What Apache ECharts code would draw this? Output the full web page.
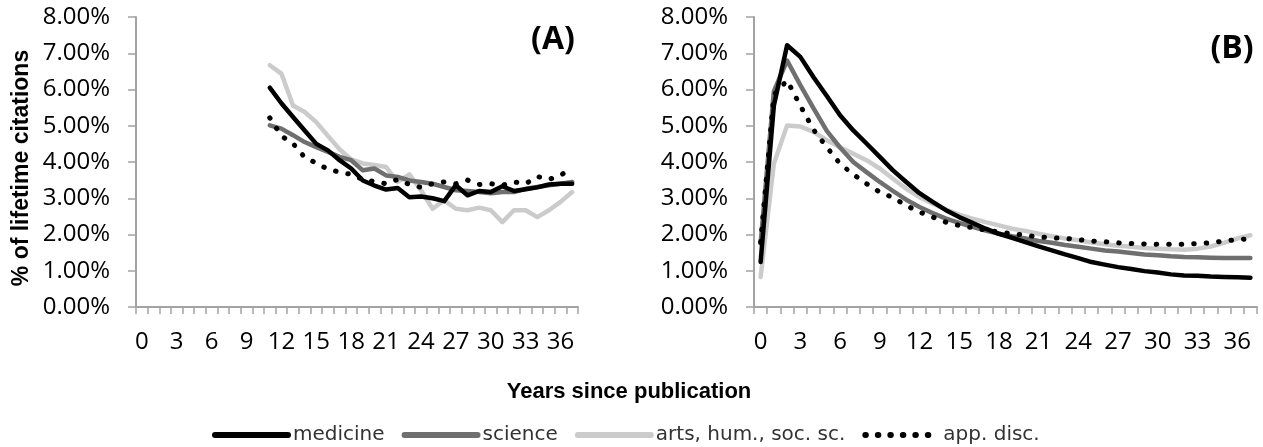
<!DOCTYPE html>
<html>
<head>
<meta charset="utf-8">
<script src="https://cdn.jsdelivr.net/npm/echarts@6/dist/echarts.min.js"></script>
<style>
  html, body { margin: 0; padding: 0; background: #fff; }
  #chart { width: 1263px; height: 447px; }
</style>
</head>
<body>
<div id="chart"></div>
<script>
// Years since publication (category axis, shared by both panels)
const years = ['0','1','2','3','4','5','6','7','8','9','10','11','12','13','14','15','16','17','18','19',
               '20','21','22','23','24','25','26','27','28','29','30','31','32','33','34','35','36','37'];

// Panel (A): share of lifetime citations (%), data begins at year 11
const medicineA = [null,null,null,null,null,null,null,null,null,null,null,
  6.05,5.62,5.24,4.87,4.50,4.32,4.05,3.82,3.49,3.35,3.24,3.28,3.03,3.05,3.00,2.92,3.36,3.08,3.20,3.17,3.33,3.20,3.25,3.30,3.38,3.40,3.40];
const scienceA = [null,null,null,null,null,null,null,null,null,null,null,
  5.01,4.92,4.74,4.55,4.41,4.28,4.14,4.05,3.77,3.82,3.63,3.59,3.49,3.45,3.40,3.31,3.22,3.20,3.17,3.14,3.17,3.17,3.26,3.31,3.36,3.40,3.45];
const artsA = [null,null,null,null,null,null,null,null,null,null,null,
  6.67,6.44,5.56,5.38,5.10,4.72,4.35,4.07,3.96,3.92,3.86,3.45,3.66,3.22,2.71,2.94,2.71,2.67,2.74,2.67,2.34,2.67,2.67,2.48,2.67,2.90,3.17];
const appliedA = [null,null,null,null,null,null,null,null,null,null,null,
  5.22,4.72,4.51,4.13,3.97,3.80,3.72,3.66,3.52,3.46,3.40,3.52,3.38,3.30,3.40,3.45,3.40,3.50,3.38,3.40,3.36,3.45,3.40,3.60,3.52,3.63,3.85];

// Panel (B): share of lifetime citations (%)
const medicineB = [1.24,5.55,7.22,6.90,6.34,5.82,5.29,4.87,4.51,4.14,3.77,3.45,3.14,2.90,2.67,2.48,2.32,2.16,2.02,
  1.91,1.79,1.67,1.56,1.45,1.35,1.24,1.17,1.10,1.05,0.99,0.95,0.90,0.87,0.86,0.84,0.83,0.82,0.81];
const scienceB = [1.75,5.95,6.80,6.12,5.48,4.86,4.40,4.00,3.72,3.45,3.20,2.96,2.76,2.59,2.44,2.32,2.21,2.11,2.02,
  1.95,1.89,1.82,1.77,1.71,1.66,1.61,1.56,1.53,1.49,1.45,1.43,1.40,1.38,1.37,1.36,1.35,1.35,1.35];
const artsB = [0.83,3.95,5.01,4.98,4.83,4.60,4.41,4.23,4.05,3.82,3.54,3.26,3.03,2.85,2.69,2.55,2.44,2.34,2.25,
  2.16,2.10,2.02,1.95,1.89,1.84,1.78,1.73,1.69,1.66,1.63,1.61,1.59,1.58,1.61,1.67,1.77,1.89,1.98];
const appliedB = [1.79,5.85,6.25,5.55,4.89,4.41,3.95,3.66,3.40,3.17,3.02,2.80,2.62,2.48,2.34,2.25,2.19,2.12,2.07,
  2.02,1.98,1.93,1.91,1.89,1.86,1.82,1.80,1.77,1.75,1.74,1.73,1.73,1.73,1.75,1.77,1.82,1.86,1.88];

const seriesNames = ['medicine', 'science', 'arts, hum., soc. sc.', 'app. disc.'];

const AXIS_GREY = '#a3a3a3';
const tickFont = '"Open Sans", "Liberation Sans", sans-serif';

function xAxisFor(gridIndex) {
  return {
    type: 'category', gridIndex, data: years, boundaryGap: true,
    axisLine: { lineStyle: { color: AXIS_GREY, width: 2 } },
    axisTick: { show: true, interval: 0, length: 7, lineStyle: { color: AXIS_GREY, width: 1.5 } },
    axisLabel: { interval: 2, margin: 23, color: '#000', fontSize: 24, fontFamily: tickFont },
    splitLine: { show: false }
  };
}
function yAxisFor(gridIndex) {
  return {
    type: 'value', gridIndex, min: 0, max: 8, interval: 1,
    axisLine: { show: true, lineStyle: { color: AXIS_GREY, width: 2 } },
    axisTick: { show: true, length: 8, lineStyle: { color: AXIS_GREY, width: 1.5 } },
    axisLabel: { margin: 26, color: '#000', fontSize: 24, fontFamily: tickFont,
                 formatter: v => v.toFixed(2) + '%' },
    splitLine: { show: false }
  };
}

// Line styles per discipline
const styles = {
  'medicine': { color: '#000000', width: 4.5, type: 'solid' },
  'science': { color: '#6f6f6f', width: 4.5, type: 'solid' },
  'arts, hum., soc. sc.': { color: '#cbcbcb', width: 4.5, type: 'solid' },
  'app. disc.': { color: '#000000', width: 5, type: [0.5, 12] }
};

function lineSeries(name, data, idx, z) {
  const s = styles[name];
  return {
    name, type: 'line', data, xAxisIndex: idx, yAxisIndex: idx,
    symbol: 'none', showSymbol: false, connectNulls: false, z,
    itemStyle: { color: s.color },
    lineStyle: { color: s.color, width: s.width, type: s.type, cap: 'round', join: 'round' }
  };
}

const chart = echarts.init(document.getElementById('chart'), null, { renderer: 'canvas' });
chart.setOption({
  animation: false,
  backgroundColor: '#ffffff',
  grid: [
    { left: 136, right: 685, top: 17, bottom: 140 },
    { left: 754, right: 6, top: 17, bottom: 140 }
  ],
  xAxis: [xAxisFor(0), xAxisFor(1)],
  yAxis: [yAxisFor(0), yAxisFor(1)],
  legend: {
    left: 207, top: 420, itemWidth: 73, itemHeight: 14, itemGap: 17,
    data: seriesNames,
    itemStyle: { opacity: 0, borderWidth: 0 },
    lineStyle: { width: 6 },
    textStyle: { color: '#333333', fontSize: 20, fontFamily: '"DejaVu Sans", sans-serif' }
  },
  graphic: [
    { type: 'text', x: 22, y: 168, rotation: Math.PI / 2,
      style: { text: '% of lifetime citations', font: 'bold 23px "Liberation Sans", Arial, sans-serif',
               fill: '#000', align: 'center', verticalAlign: 'middle' } },
    { type: 'text', x: 629, y: 392,
      style: { text: 'Years since publication', font: 'bold 22px "Liberation Sans", Arial, sans-serif',
               fill: '#000', align: 'center', verticalAlign: 'middle' } },
    { type: 'text', x: 553, y: 40,
      style: { text: '(A)', font: 'bold 32px "Open Sans", sans-serif',
               fill: '#000', align: 'center', verticalAlign: 'middle' } },
    { type: 'text', x: 1232, y: 49,
      style: { text: '(B)', font: 'bold 32px "Open Sans", sans-serif',
               fill: '#000', align: 'center', verticalAlign: 'middle' } }
  ],
  series: [
    lineSeries('arts, hum., soc. sc.', artsA, 0, 2),
    lineSeries('science', scienceA, 0, 3),
    lineSeries('medicine', medicineA, 0, 4),
    lineSeries('app. disc.', appliedA, 0, 5),
    lineSeries('arts, hum., soc. sc.', artsB, 1, 2),
    lineSeries('science', scienceB, 1, 3),
    lineSeries('medicine', medicineB, 1, 4),
    lineSeries('app. disc.', appliedB, 1, 5)
  ]
});
</script>
</body>
</html>
